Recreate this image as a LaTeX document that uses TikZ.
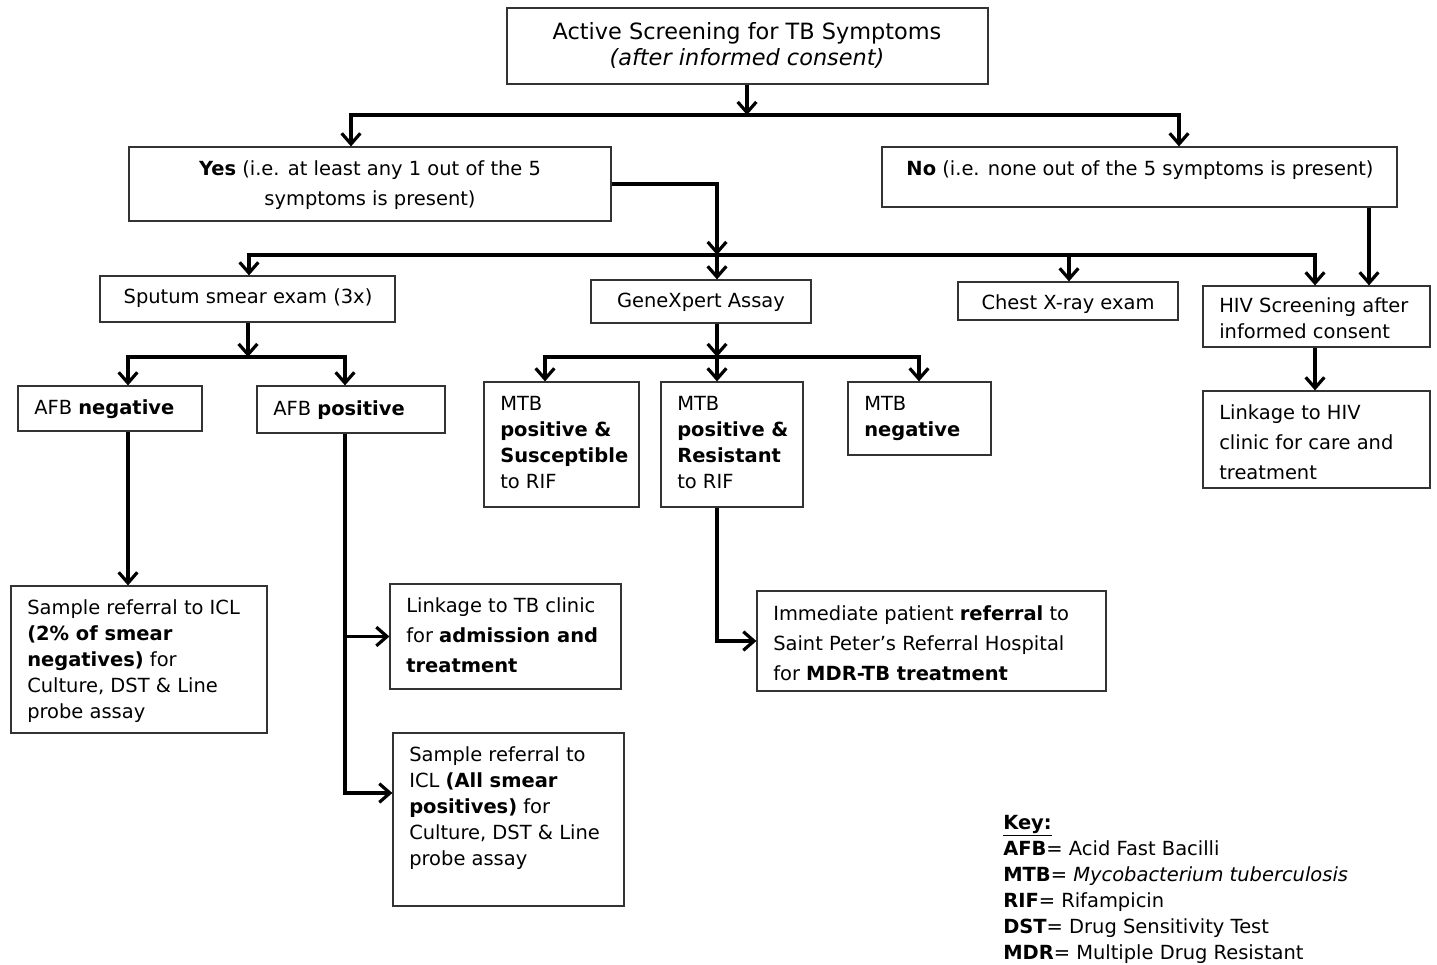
\documentclass[tikz,border=0pt]{standalone}
\usepackage{fontspec}
\setmainfont{DejaVu Sans}
\usetikzlibrary{arrows.meta,fit}
\newcommand\fs{\fontsize{14.6pt}{19.5pt}\selectfont}
\newcommand\fsw{\fontsize{14.6pt}{22.5pt}\selectfont}
\newcommand\fst{\fontsize{16.8pt}{19.5pt}\selectfont}
\newcommand\st{\rule{0pt}{13.65pt}}
\begin{document}
\begin{tikzpicture}[x=0.75pt,y=-0.75pt,
  bx/.style={draw=black!80, line width=0.9pt, inner sep=0pt},
  tx/.style={anchor=north west, inner sep=0pt, align=left, font=\fs},
  txw/.style={tx, font=\fsw},
  txc/.style={anchor=north, inner sep=0pt, align=center, font=\fs},
  ln/.style={line width=2.4pt, line join=miter},
  arr/.style={ln, -{Straight Barb[length=8pt,width=14pt]}},
  arr2/.style={ln, {Straight Barb[length=8pt,width=14pt]}-{Straight Barb[length=8pt,width=14pt]}}]
\useasboundingbox (0,0) rectangle (1437,964);

% boxes
\node[bx, fit={(507,8) (988,84)}] (title) {};
\node[bx, fit={(129,147) (611,221)}] (yes) {};
\node[bx, fit={(882,147) (1397,207)}] (no) {};
\node[bx, fit={(100,276) (395,322)}] (sput) {};
\node[bx, fit={(591,280) (811,323)}] (gene) {};
\node[bx, fit={(958,282) (1178,320)}] (chest) {};
\node[bx, fit={(1203,286) (1430,347)}] (hiv) {};
\node[bx, fit={(18,386) (202,431)}] (an) {};
\node[bx, fit={(257,386) (445,433)}] (ap) {};
\node[bx, fit={(484,382) (639,507)}] (m1) {};
\node[bx, fit={(661,382) (803,507)}] (m2) {};
\node[bx, fit={(848,382) (991,455)}] (m3) {};
\node[bx, fit={(1203,391) (1430,488)}] (lhiv) {};
\node[bx, fit={(11,586) (267,733)}] (icl1) {};
\node[bx, fit={(390,584) (621,689)}] (ltb) {};
\node[bx, fit={(393,733) (624,906)}] (icl2) {};
\node[bx, fit={(757,591) (1106,691)}] (mdr) {};

% texts
\node[txc, font=\fst] (title-t) at (747,21) {\st Active Screening for TB Symptoms\\\textit{(after informed consent)}};
\node[txc, font=\fsw] (yes-t) at (370,157) {\st\textbf{Yes} (i.e. at least any 1 out of the 5\\symptoms is present)};
\node[txc] (no-t) at (1140,157) {\st\textbf{No} (i.e. none out of the 5 symptoms is present)};
\node[txc] (sput-t) at (248,285) {\st Sputum smear exam (3x)};
\node[txc] (gene-t) at (701,289) {\st GeneXpert Assay};
\node[txc] (chest-t) at (1068,291) {\st Chest X-ray exam};
\node[tx] (hiv-t) at (1219,294) {\st HIV Screening after\\informed consent};
\node[tx] (an-t) at (34,396) {\st AFB \textbf{negative}};
\node[tx] (ap-t) at (273,397) {\st AFB \textbf{positive}};
\node[tx] (m1-t) at (500,392) {\st MTB\\\textbf{positive \&}\\\textbf{Susceptible}\\to RIF};
\node[tx] (m2-t) at (677,392) {\st MTB\\\textbf{positive \&}\\\textbf{Resistant}\\to RIF};
\node[tx] (m3-t) at (864,392) {\st MTB\\\textbf{negative}};
\node[txw] (lhiv-t) at (1219,401) {\st Linkage to HIV\\clinic for care and\\treatment};
\node[tx] (icl1-t) at (27,596) {\st Sample referral to ICL\\\textbf{(2\% of smear}\\\textbf{negatives)} for\\Culture, DST \& Line\\probe assay};
\node[txw] (ltb-t) at (406,594) {\st Linkage to TB clinic\\for \textbf{admission and}\\\textbf{treatment}};
\node[tx] (icl2-t) at (409,743) {\st Sample referral to\\ICL \textbf{(All smear}\\\textbf{positives)} for\\Culture, DST \& Line\\probe assay};
\node[txw] (mdr-t) at (773,602) {\st Immediate patient \textbf{referral} to\\Saint Peter’s Referral Hospital\\for \textbf{MDR-TB treatment}};
\node[tx] (key) at (1003,811) {\st\textbf{\underline{Key:}}\\
\textbf{AFB}= Acid Fast Bacilli\\
\textbf{MTB}= \textit{Mycobacterium tuberculosis}\\
\textbf{RIF}= Rifampicin\\
\textbf{DST}= Drug Sensitivity Test\\
\textbf{MDR}= Multiple Drug Resistant};

% connector coordinates
\coordinate (t1) at (747,115);
\coordinate (ya) at (351,115);
\coordinate (na) at (1179,115);
\coordinate (g1) at (717,255);
\coordinate (s1) at (249,255);
\coordinate (c1) at (1069,255);
\coordinate (h1) at (1315,255);
\coordinate (n2) at (1369,0);
\coordinate (s2) at (248,357);
\coordinate (a1) at (128,357);
\coordinate (a2) at (345,357);
\coordinate (g2) at (717,357);
\coordinate (q1) at (545,357);
\coordinate (q3) at (919,357);
\coordinate (p2) at (345,793);

% connectors
\draw[arr] (title.south -| t1) -- (t1);
\draw[arr2] (ya |- yes.north) -- (ya) -- (na) -- (na |- no.north);
\draw[arr] (yes.east) -| (g1);
\draw[arr2] (s1 |- sput.north) -- (s1) -- (h1) -- (h1 |- hiv.north);
\draw[arr] (g1) -- (g1 |- gene.north);
\draw[arr] (c1) -- (c1 |- chest.north);
\draw[arr] (no.south -| n2) -- (n2 |- hiv.north);
\draw[arr] (s2 |- sput.south) -- (s2);
\draw[arr2] (a1 |- an.north) -- (a1) -- (a2) -- (a2 |- ap.north);
\draw[arr] (g1 |- gene.south) -- (g2);
\draw[arr2] (q1 |- m1.north) -- (q1) -- (q3) -- (q3 |- m3.north);
\draw[arr] (g2) -- (g2 |- m2.north);
\draw[arr] (h1 |- hiv.south) -- (h1 |- lhiv.north);
\draw[arr] (a1 |- an.south) -- (a1 |- icl1.north);
\draw[arr] (a2 |- ap.south) |- (ltb.west);
\draw[arr] (a2 |- ap.south) -- (p2) -- (p2 -| icl2.west);
\draw[arr] (g2 |- m2.south) |- (mdr.west);
\end{tikzpicture}
\end{document}
